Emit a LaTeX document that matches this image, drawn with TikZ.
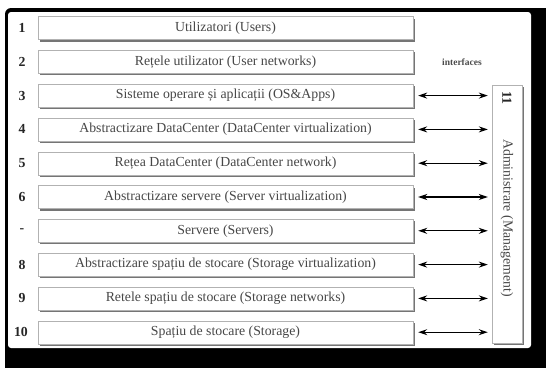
\documentclass[tikz,border=0pt]{standalone}
\usepackage{fontspec}
\setmainfont{Liberation Serif}
\usepackage{tikz}
\usetikzlibrary{arrows.meta,positioning,calc,shadows}

\newcommand{\layerfont}{\fontsize{13.8}{15}\selectfont}

\begin{document}
\begin{tikzpicture}[x=1pt, y=-1pt,
  every node/.style={font=\layerfont},
  layer/.style={draw=gray!60, fill=white, minimum width=375pt, minimum height=23pt,
    inner sep=0pt, text=black!72,
    drop shadow={shadow xshift=2pt, shadow yshift=-2pt, fill=black!60, opacity=0.9}},
  num/.style={font=\layerfont\bfseries, text=black!85},
  link/.style={{Stealth[length=9pt,width=6pt]}-{Stealth[length=9pt,width=6pt]}, line width=1.2pt,
    shorten <=5pt, shorten >=4pt}]

\useasboundingbox (0,0) rectangle (546,367);
\clip (0,0) rectangle (546,367);

% frame of the photographed page
\fill[white] (0,0) rectangle (546,367);
\fill[black, rounded corners=6pt] (5,8) -- (560,8) -- (560,380) -- (5,380) -- cycle;
\fill[white, rounded corners=3pt] (8,12) rectangle (531,348);

% layers
\node[layer] (users)   at (225.5,28.0)  {Utilizatori (Users)};
\node[layer] (usernet) at (225.5,61.8)  {Rețele utilizator (User networks)};
\node[layer] (os)      at (225.5,95.6)  {Sisteme operare și aplicații (OS\&Apps)};
\node[layer] (dcvirt)  at (225.5,129.4) {Abstractizare DataCenter (DataCenter virtualization)};
\node[layer] (dcnet)   at (225.5,163.2) {Rețea DataCenter (DataCenter network)};
\node[layer] (srvvirt) at (225.5,197.0) {Abstractizare servere (Server virtualization)};
\node[layer] (srv)     at (225.5,230.8) {Servere (Servers)};
\node[layer] (stvirt)  at (225.5,264.6) {Abstractizare spațiu de stocare (Storage virtualization)};
\node[layer] (stnet)   at (225.5,298.4) {Retele spațiu de stocare (Storage networks)};
\node[layer] (storage) at (225.5,332.2) {Spațiu de stocare (Storage)};

\node[num] (n1)  at (22,28.0)  {1};
\node[num] (n2)  at (22,61.8)  {2};
\node[num] (n3)  at (22,95.6)  {3};
\node[num] (n4)  at (22,129.4) {4};
\node[num] (n5)  at (22,163.2) {5};
\node[num] (n6)  at (22,197.0) {6};
\node[num] (n7)  at (22,230.8) {-};
\node[num] (n8)  at (22,264.6) {8};
\node[num] (n9)  at (22,298.4) {9};
\node[num] (n10) at (21,332.2) {10};

\node[font=\fontsize{9.5}{11}\selectfont\bfseries, text=black!70] (iface) at (462,62) {interfaces};

% management column
\node[draw=gray!60, fill=white, minimum width=30pt, minimum height=258pt, inner sep=0pt,
  drop shadow={shadow xshift=2pt, shadow yshift=-2pt, fill=black!60, opacity=0.9}]
  (mgmt) at (507,214) {};
\node[num, rotate=-90] (n11) at ($(mgmt.north)+(0,13)$) {11};
\node[rotate=-90, text=black!72] (mgmttxt) at (507,218) {Administrare (Management)};

\draw[link] (os)      -- (os -| mgmt.west);
\draw[link] (dcvirt)  -- (dcvirt -| mgmt.west);
\draw[link] (dcnet)   -- (dcnet -| mgmt.west);
\draw[link] (srvvirt) -- (srvvirt -| mgmt.west);
\draw[link] (srv)     -- (srv -| mgmt.west);
\draw[link] (stvirt)  -- (stvirt -| mgmt.west);
\draw[link] (stnet)   -- (stnet -| mgmt.west);
\draw[link] (storage) -- (storage -| mgmt.west);

\end{tikzpicture}
\end{document}
